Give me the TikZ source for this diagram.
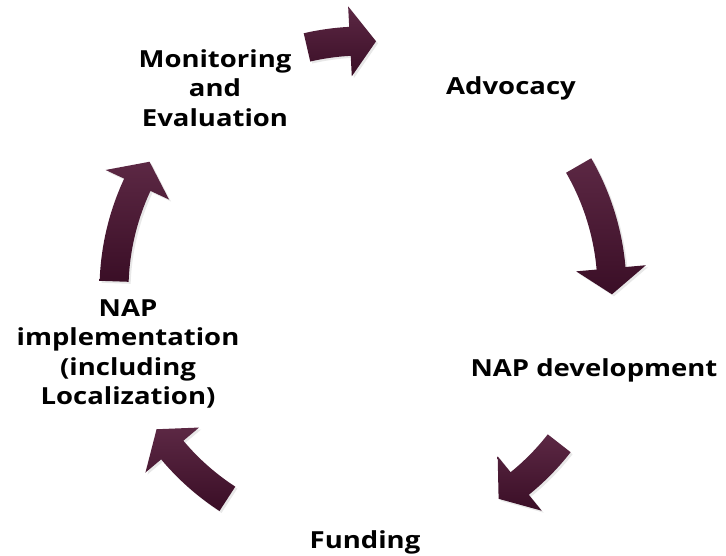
\documentclass[tikz,border=0pt]{standalone}
\usepackage{fontspec}
\setmainfont[Ligatures=NoCommon, FakeStretch=1.17]{Open Sans}
\usetikzlibrary{shadows}

\definecolor{winelight}{RGB}{92,40,68}
\definecolor{winedark}{RGB}{58,14,38}

\tikzset{
  stage/.style={align=center, font=\bfseries\fontsize{23.5}{29.5}\selectfont},
  cycle arrow/.style={top color=winelight, bottom color=winedark,
    drop shadow={opacity=0.18, shadow xshift=2pt, shadow yshift=-2pt}}
}

% curved block arrow on the ring, clockwise from angle #1 to angle #2
\newcommand{\cyclearrow}[2]{%
  \path[cycle arrow] (#1:263.5) arc[start angle=#1, end angle=#2+6, radius=263.5]
    -- (#2+6:284) -- (#2:249) -- (#2+6:214) -- (#2+6:234.5)
    arc[start angle=#2+6, end angle=#1, radius=234.5] -- cycle;}

\begin{document}
\begin{tikzpicture}[x=1pt, y=1pt]
  \useasboundingbox (-363,-266) rectangle (363,290);

  \node[stage] (adv)  at (148,202)  {Advocacy};
  \node[stage] (dev)  at (231,-80)  {NAP development};
  \node[stage] (fund) at (2,-252)   {Funding};
  \node[stage] (impl) at (-235,-64) {NAP\\implementation\\(including\\Localization)};
  \node[stage] (mon)  at (-148,202) {Monitoring\\and\\Evaluation};

  \cyclearrow{103}{87}
  \cyclearrow{30}{-1}
  \cyclearrow{-38}{-57}
  \cyclearrow{237}{214}
  \cyclearrow{178}{149}
\end{tikzpicture}
\end{document}
